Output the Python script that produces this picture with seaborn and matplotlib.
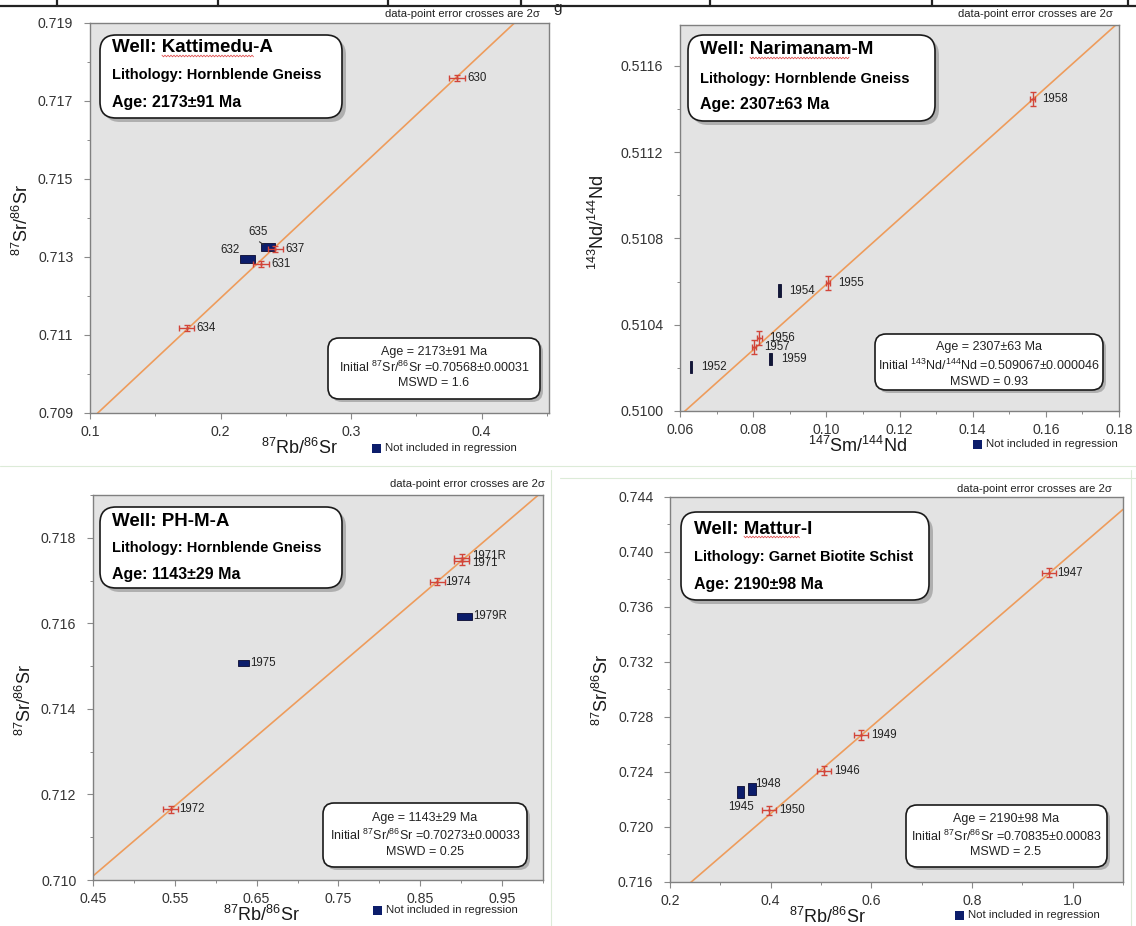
import numpy as np
import matplotlib
matplotlib.use("Agg")
import matplotlib.pyplot as plt
import seaborn as sns
from matplotlib.patches import FancyBboxPatch, Rectangle
from matplotlib.ticker import AutoMinorLocator, FormatStrFormatter

sns.set_theme(style="white")
plt.rcParams["font.family"] = ["Liberation Sans", "DejaVu Sans"]
plt.rcParams["mathtext.fontset"] = "custom"
plt.rcParams["mathtext.rm"] = "Liberation Sans"
plt.rcParams["mathtext.it"] = "Liberation Sans:italic"
plt.rcParams["mathtext.bf"] = "Liberation Sans:bold"

# ---------------- data ----------------
# Panel 1: Kattimedu-A (Rb-Sr)
a_ids = ["630", "637", "631", "634"]
a_x = [0.381, 0.242, 0.231, 0.174]
a_y = [0.71759, 0.71320, 0.71282, 0.71118]
a_xerr = [0.006, 0.006, 0.006, 0.006]
a_yerr = [0.00008, 0.00008, 0.00008, 0.00008]
a_ex_ids = ["635", "632"]
a_ex_x = [0.2365, 0.2205]
a_ex_y = [0.71325, 0.71295]
a_ex_xerr = [0.0055, 0.0055]
a_ex_yerr = [0.0001, 0.0001]
a_intercept, a_slope = 0.70568, 0.03134

# Panel 2: Narimanam-M (Sm-Nd)
b_ids = ["1958", "1955", "1956", "1957"]
b_x = [0.1564, 0.1004, 0.0817, 0.0803]
b_y = [0.511445, 0.510594, 0.510339, 0.510297]
b_xerr = [0.0006, 0.0006, 0.0006, 0.0006]
b_yerr = [0.000032, 0.000032, 0.000032, 0.000032]
b_ex_ids = ["1954", "1959", "1952"]
b_ex_x = [0.0872, 0.0848, 0.0630]
b_ex_y = [0.510557, 0.510241, 0.510204]
b_ex_xerr = [0.0004, 0.0004, 0.0004]
b_ex_yerr = [0.00003, 0.00003, 0.00003]
b_intercept, b_slope = 0.509067, 0.015202

# Panel 3: PH-M-A (Rb-Sr)
c_ids = ["1972", "1974", "1971R", "1971"]
c_x = [0.545, 0.871, 0.9006, 0.9006]
c_y = [0.71165, 0.71697, 0.71753, 0.71745]
c_xerr = [0.009, 0.009, 0.009, 0.009]
c_yerr = [0.00008, 0.00008, 0.00008, 0.00008]
c_ex_ids = ["1975", "1979R"]
c_ex_x = [0.634, 0.904]
c_ex_y = [0.71508, 0.71616]
c_ex_xerr = [0.007, 0.0095]
c_ex_yerr = [0.00007, 0.00008]
c_intercept, c_slope = 0.70273, 0.016363

# Panel 4: Mattur-I (Rb-Sr)
d_ids = ["1947", "1949", "1946", "1950"]
d_x = [0.953, 0.580, 0.506, 0.397]
d_y = [0.73850, 0.72669, 0.72410, 0.72120]
d_xerr = [0.014, 0.014, 0.014, 0.014]
d_yerr = [0.00035, 0.00035, 0.00035, 0.00035]
d_ex_ids = ["1948", "1945"]
d_ex_x = [0.362, 0.340]
d_ex_y = [0.72276, 0.72255]
d_ex_xerr = [0.008, 0.007]
d_ex_yerr = [0.00045, 0.00042]
d_intercept, d_slope = 0.70835, 0.031587

# ---------------- style ----------------
W, H = 1136, 926
FACE = "#e3e3e3"
ORANGE = "#ee9c5c"
RED = "#d2453a"
NAVY = "#0c1d6b"
TXT = "#222222"

fig = plt.figure(figsize=(W / 100, H / 100), dpi=100)


def px_axes(l, t, r, b):
    return fig.add_axes([l / W, 1 - b / H, (r - l) / W, (b - t) / H])


def draw_panel(ax, xs, ys, xe, ye, ids, lab_off, exx, exy, exxe, exye, exids, ex_off,
               intercept, slope, xlim, ylim, xticks, yticks, xfmt, yfmt, ex_color=NAVY):
    ax.set_facecolor(FACE)
    ax.set_xlim(*xlim)
    ax.set_ylim(*ylim)
    # isochron line
    lx = np.linspace(xlim[0], xlim[1], 50)
    sns.lineplot(x=lx, y=intercept + slope * lx, ax=ax, color=ORANGE, lw=1.2, zorder=2)
    # excluded points as error boxes
    for x, y, dx, dy in zip(exx, exy, exxe, exye):
        ax.add_patch(Rectangle((x - dx, y - dy), 2 * dx, 2 * dy, facecolor=ex_color,
                               edgecolor="#0a0a30", lw=0.6, zorder=3))
    # regression points: error crosses
    ax.errorbar(xs, ys, xerr=xe, yerr=ye, fmt="none", ecolor=RED, elinewidth=1.0,
                capsize=2.2, capthick=1.0, zorder=4)
    sns.scatterplot(x=xs, y=ys, ax=ax, s=3, color=RED, edgecolor=None, zorder=5, legend=False)
    for x, y, s, (dx, dy) in zip(xs, ys, ids, lab_off):
        ax.annotate(s, (x, y), xytext=(dx, -dy), textcoords="offset pixels",
                    fontsize=8.3, color=TXT, va="center", ha="left",
                    family=["Liberation Sans Narrow", "Liberation Sans"], zorder=6)
    for x, y, s, off in zip(exx, exy, exids, ex_off):
        dx, dy, ha = off[0], off[1], off[2]
        ax.annotate(s, (x, y), xytext=(dx, -dy), textcoords="offset pixels",
                    fontsize=8.3, color=TXT, va="center", ha=ha,
                    family=["Liberation Sans Narrow", "Liberation Sans"], zorder=6)
    ax.set_xticks(xticks)
    ax.set_yticks(yticks)
    ax.xaxis.set_major_formatter(FormatStrFormatter(xfmt))
    ax.yaxis.set_major_formatter(FormatStrFormatter(yfmt))
    ax.xaxis.set_minor_locator(AutoMinorLocator(2))
    ax.yaxis.set_minor_locator(AutoMinorLocator(2))
    ax.tick_params(which="major", direction="out", length=4, width=0.8, color="#8a8a8a",
                   labelsize=10.2, labelcolor="#333333", pad=8, bottom=True, left=True)
    ax.tick_params(axis="x", which="major", pad=4.5)
    ax.tick_params(which="minor", direction="out", length=2.5, width=0.7, color="#8a8a8a",
                   bottom=True, left=True)
    for sp in ax.spines.values():
        sp.set_color("#808080")
        sp.set_linewidth(1.0)
    ax.set_xlabel("")
    ax.set_ylabel("")


ax1 = px_axes(90, 23, 549, 413)
draw_panel(ax1, a_x, a_y, a_xerr, a_yerr, a_ids, [(10, 0)] * 4,
           a_ex_x, a_ex_y, a_ex_xerr, a_ex_yerr, a_ex_ids,
           [(-10, -15, "center"), (-8, -9, "right")],
           a_intercept, a_slope, (0.1, 0.4515), (0.709, 0.719),
           [0.1, 0.2, 0.3, 0.4], [0.709, 0.711, 0.713, 0.715, 0.717, 0.719], "%.1f", "%.3f")
ax1.annotate("", xy=(a_ex_x[0] - 0.002, a_ex_y[0] + 0.00003),
             xytext=(a_ex_x[0] - 0.0085, a_ex_y[0] + 0.00018),
             arrowprops=dict(arrowstyle="-", color="#333333", lw=0.8), zorder=6)

ax2 = px_axes(680, 25, 1119, 411)
draw_panel(ax2, b_x, b_y, b_xerr, b_yerr, b_ids, [(10, 0)] * 4,
           b_ex_x, b_ex_y, b_ex_xerr, b_ex_yerr, b_ex_ids,
           [(10, 0, "left")] * 3,
           b_intercept, b_slope, (0.06, 0.18), (0.5100, 0.51179),
           [0.06, 0.08, 0.10, 0.12, 0.14, 0.16, 0.18], [0.5100, 0.5104, 0.5108, 0.5112, 0.5116],
           "%.2f", "%.4f", ex_color="#101836")

ax3 = px_axes(93, 495, 543, 880)
draw_panel(ax3, c_x, c_y, c_xerr, c_yerr, c_ids, [(8, 0), (8, 0), (10, -2), (10, 2)],
           c_ex_x, c_ex_y, c_ex_xerr, c_ex_yerr, c_ex_ids,
           [(7, 0, "left"), (9, 0, "left")],
           c_intercept, c_slope, (0.45, 1.0), (0.710, 0.719),
           [0.45, 0.55, 0.65, 0.75, 0.85, 0.95], [0.710, 0.712, 0.714, 0.716, 0.718],
           "%.2f", "%.3f")

ax4 = px_axes(670, 497, 1123, 882)
draw_panel(ax4, d_x, d_y, d_xerr, d_yerr, d_ids, [(8, 0), (10, 0), (10, 0), (10, 0)],
           d_ex_x, d_ex_y, d_ex_xerr, d_ex_yerr, d_ex_ids,
           [(4, -5, "left"), (1, 15, "center")],
           d_intercept, d_slope, (0.2, 1.1), (0.716, 0.744),
           [0.2, 0.4, 0.6, 0.8, 1.0], [0.716, 0.720, 0.724, 0.728, 0.732, 0.736, 0.740, 0.744],
           "%.1f", "%.3f")

# ---------------- overlay (pixel coords) ----------------
ov = fig.add_axes([0, 0, 1, 1], zorder=20)
ov.set_xlim(0, W)
ov.set_ylim(H, 0)
ov.axis("off")
ov.patch.set_alpha(0)

# remnant table lines at the top
ov.plot([0, W], [6, 6], color="#222222", lw=1.6)
for vx in [57, 218, 388, 521, 710, 932, 1128]:
    ov.plot([vx, vx], [0, 6], color="#222222", lw=1.6)
ov.text(553, 1, "g", fontsize=11, color="#222222", va="top", ha="left")

# faint green frame remnants
ov.plot([0, W], [466, 466], color="#dcebd8", lw=0.8)
ov.plot([560, W], [478, 478], color="#dcebd8", lw=0.8)
ov.plot([551, 551], [470, H], color="#dcebd8", lw=0.8)
ov.plot([1131, 1131], [470, H], color="#dcebd8", lw=0.8)


def rbox(x0, y0, x1, y1, r=14, shadow=4):
    sh = FancyBboxPatch((x0 + shadow, y0 + shadow), x1 - x0, y1 - y0,
                        boxstyle=f"round,pad=0,rounding_size={r}", facecolor="#9a9a9a",
                        edgecolor="none", alpha=0.7, zorder=1)
    ov.add_patch(sh)
    bx = FancyBboxPatch((x0, y0), x1 - x0, y1 - y0,
                        boxstyle=f"round,pad=0,rounding_size={r}", facecolor="white",
                        edgecolor="#1a1a1a", lw=1.2, zorder=2)
    ov.add_patch(bx)


wells = [
    dict(box=(100, 35, 342, 118), x=112, ys=(48, 75, 102), ul=(162, 254),
         t=("Well: Kattimedu-A", "Lithology: Hornblende Gneiss", "Age: 2173±91 Ma")),
    dict(box=(688, 35, 935, 121), x=700, ys=(50, 79, 105), ul=(750, 850),
         t=("Well: Narimanam-M", "Lithology: Hornblende Gneiss", "Age: 2307±63 Ma")),
    dict(box=(100, 507, 342, 588), x=112, ys=(522, 548, 574), ul=None,
         t=("Well: PH-M-A", "Lithology: Hornblende Gneiss", "Age: 1143±29 Ma")),
    dict(box=(681, 512, 929, 600), x=694, ys=(529, 557, 585), ul=(744, 800),
         t=("Well: Mattur-I", "Lithology: Garnet Biotite Schist", "Age: 2190±98 Ma")),
]
for w in wells:
    rbox(*w["box"], r=16, shadow=4)
    ov.text(w["x"], w["ys"][0], w["t"][0], fontsize=13.5, fontweight="bold", color="black",
            va="center", ha="left", zorder=3)
    ov.text(w["x"], w["ys"][1], w["t"][1], fontsize=10.5, fontweight="bold", color="black",
            va="center", ha="left", zorder=3)
    ov.text(w["x"], w["ys"][2], w["t"][2], fontsize=11.5, fontweight="bold", color="black",
            va="center", ha="left", zorder=3)
    if w["ul"] is not None:
        ux = np.arange(w["ul"][0], w["ul"][1] + 0.1, 1.5)
        uy = w["ys"][0] + 8 + 0.8 * ((np.arange(len(ux)) % 2) * 2 - 1)
        ov.plot(ux, uy, color="#e05050", lw=0.6, zorder=3)

infos = [
    dict(box=(328, 338, 540, 399), cx=434, ys=(352, 367, 383),
         t=("Age = 2173±91 Ma", r"Initial $^{87}$Sr/$^{86}$Sr =0.70568±0.00031", "MSWD = 1.6")),
    dict(box=(875, 334, 1103, 390), cx=989, ys=(347, 365, 382),
         t=("Age = 2307±63 Ma", r"Initial $^{143}$Nd/$^{144}$Nd =0.509067±0.000046", "MSWD = 0.93")),
    dict(box=(323, 803, 527, 867), cx=425, ys=(818, 835, 852),
         t=("Age = 1143±29 Ma", r"Initial $^{87}$Sr/$^{86}$Sr =0.70273±0.00033", "MSWD = 0.25")),
    dict(box=(906, 805, 1107, 867), cx=1006, ys=(819, 836, 852),
         t=("Age = 2190±98 Ma", r"Initial $^{87}$Sr/$^{86}$Sr =0.70835±0.00083", "MSWD = 2.5")),
]
for inf in infos:
    rbox(*inf["box"], r=11, shadow=3)
    for yy, s in zip(inf["ys"], inf["t"]):
        ov.text(inf["cx"], yy, s, fontsize=9, color="#222222", va="center", ha="center", zorder=3)

# axis labels
xlabels = [(300, 448, r"$^{87}$Rb/$^{86}$Sr"), (858, 446, r"$^{147}$Sm/$^{144}$Nd"),
           (262, 915, r"$^{87}$Rb/$^{86}$Sr"), (828, 917, r"$^{87}$Rb/$^{86}$Sr")]
for x, y, s in xlabels:
    ov.text(x, y, s, fontsize=13, color="#1a1a1a", ha="center", va="center")
ylabels = [(22, 220, r"$^{87}$Sr/$^{86}$Sr"), (598, 222, r"$^{143}$Nd/$^{144}$Nd"),
           (25, 700, r"$^{87}$Sr/$^{86}$Sr"), (602, 690, r"$^{87}$Sr/$^{86}$Sr")]
for x, y, s in ylabels:
    ov.text(x, y, s, fontsize=13, color="#1a1a1a", ha="center", va="center", rotation=90)

# "Not included in regression" keys
keys = [(376, 448), (977, 444), (377, 910), (959, 915)]
for x, y in keys:
    ov.add_patch(Rectangle((x - 4.5, y - 4.5), 9, 9, facecolor=NAVY, edgecolor="none"))
    ov.text(x + 9, y, "Not included in regression", fontsize=8.2, color="#222222",
            va="center", ha="left")

# error-cross notes
notes = [(540, 14), (1113, 14), (545, 484), (1112, 489)]
for x, y in notes:
    ov.text(x, y, "data-point error crosses are 2σ", fontsize=8.1, color="#222222",
            va="center", ha="right")

fig.savefig("out.png", dpi=100)
